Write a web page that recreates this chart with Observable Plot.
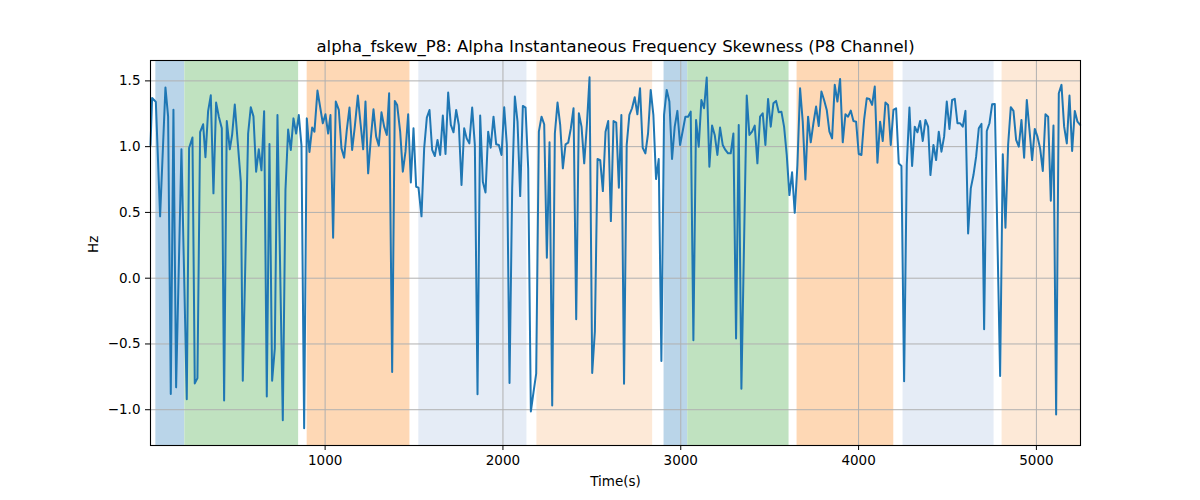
<!DOCTYPE html>
<html>
<head>
<meta charset="utf-8">
<script src="https://cdn.jsdelivr.net/npm/d3@7"></script>
<script src="https://cdn.jsdelivr.net/npm/@observablehq/plot@0.6"></script>
<style>
  html, body { margin: 0; padding: 0; background: #fff; }
  #chart svg { font-family: "DejaVu Sans", sans-serif; }
</style>
</head>
<body>
<div id="chart"></div>
<script>
const title = "alpha_fskew_P8: Alpha Instantaneous Frequency Skewness (P8 Channel)";
const xLabel = "Time(s)";
const yLabel = "Hz";
const xTicks = [1000, 2000, 3000, 4000, 5000];
const yTicks = [-1.0, -0.5, 0.0, 0.5, 1.0, 1.5];

const times = [
  18, 27, 38, 48, 72, 102, 117, 132, 147, 162, 192, 222, 235, 254, 267, 282, 297, 314, 327, 342,
  357, 372, 387, 402, 419, 432, 447, 464, 477, 492, 526, 537, 567, 582, 597, 612, 627, 642, 657, 672,
  687, 702, 717, 732, 762, 777, 792, 807, 822, 837, 852, 867, 882, 897, 912,
  927, 940, 957, 987, 1002, 1017, 1030, 1045, 1060, 1077, 1092, 1107, 1122, 1137, 1152, 1167, 1184, 1199, 1214, 1227,
  1242, 1257, 1272, 1287, 1302, 1317, 1332, 1347, 1360, 1377, 1392, 1405, 1422, 1437, 1452, 1467, 1482, 1497, 1512, 1525,
  1542, 1557, 1572, 1587, 1602, 1617, 1632, 1647, 1662, 1677, 1692, 1707, 1722, 1737, 1752, 1767, 1782,
  1796, 1811, 1827, 1842, 1857, 1872, 1887, 1902, 1917, 1931, 1947, 1962, 1977, 1992, 2007, 2022, 2037, 2052, 2067, 2082,
  2097, 2112, 2127, 2142, 2157, 2172, 2187, 2202, 2217, 2232, 2247, 2262, 2277, 2292, 2307, 2322, 2337, 2352, 2367, 2382,
  2397, 2412, 2427, 2442, 2457, 2472, 2487, 2502, 2517, 2532, 2547, 2562, 2577, 2592, 2607, 2622, 2637, 2652,
  2666, 2681, 2696, 2711, 2726, 2741, 2756, 2771, 2786, 2801, 2816, 2831, 2846, 2861, 2876, 2891, 2906, 2921, 2936, 2951,
  2966, 2981, 2996, 3011, 3026, 3041, 3056, 3071, 3086, 3101, 3116, 3131, 3146, 3161, 3176, 3191, 3206, 3221, 3236, 3251,
  3266, 3281, 3296, 3311, 3326, 3341, 3371, 3386, 3401, 3416, 3431, 3446, 3461, 3476, 3491, 3506, 3521,
  3536, 3551, 3566, 3581, 3596, 3611, 3626, 3641, 3656, 3671, 3686, 3701, 3716, 3731, 3746, 3761, 3776, 3791, 3806, 3821,
  3836, 3851, 3866, 3881, 3896, 3911, 3926, 3941, 3956, 3971, 3986, 4001, 4016, 4031, 4046, 4061, 4076, 4091, 4106, 4121,
  4136, 4151, 4166, 4181, 4196, 4211, 4226, 4241, 4256, 4271, 4286, 4301, 4316, 4331, 4346, 4361, 4376, 4391, 4404,
  4421, 4436, 4451, 4466, 4481, 4496, 4511, 4526, 4541, 4556, 4571, 4586, 4601, 4616, 4631, 4646, 4661, 4676, 4691, 4706,
  4721, 4736, 4751, 4766, 4796, 4811, 4826, 4841, 4856, 4871, 4886, 4901, 4916, 4931, 4946, 4961, 4976, 4991, 5006, 5021,
  5036, 5051, 5066, 5081, 5096, 5111, 5126, 5141, 5156, 5171, 5186, 5201, 5216, 5231, 5246
];

const values = [
  1.01, 1.37, 1.355, 1.34, 0.47, 1.45, 1.23, -0.88, 1.28, -0.83, 0.98, -0.92, 0.99, 1.07, -0.80, -0.76, 1.11, 1.17, 0.92, 1.27,
  1.39, 0.645, 1.335, 1.23, 1.14, -0.93, 1.195, 0.98, 1.09, 1.32, 0.73, -0.78, 1.10, 1.30, 1.23, 0.81, 0.98, 0.82, 1.27, -0.90,
  1.02, -0.78, -0.535, 1.24, -1.08, 0.67, 1.13, 0.975, 1.215, 1.10, 1.24, 1.01, -1.14, 1.215, 0.96,
  1.145, 1.114, 1.426, 1.178, 1.246, 1.10, 1.24, 0.307, 1.343, 1.279, 0.987, 0.916, 1.127, 1.297, 0.975, 1.152, 1.388, 1.178, 0.98, 1.343,
  0.797, 1.063, 1.284, 1.076, 1.008, 1.261, 1.152, 1.089, 1.406, -0.713, 1.348, 1.317, 1.114, 0.81, 0.962, 1.246, 0.728, 1.14, 0.695, 0.688,
  0.47, 0.987, 1.221, 1.279, 0.975, 0.929, 1.051, 0.937, 1.236, 0.944, 1.411, 1.165, 1.109, 1.279, 1.165, 0.708, 1.14,
  1.063, 1.025, 1.297, 1.013, -0.883, 1.236, 0.733, 0.652, 1.114, 0.992, 1.228, 1.018, 1.013, 0.937, 1.30, 1.013, -0.797, 0.683, 1.381, 1.19,
  0.624, 1.31, 1.297, 0.835, -1.013, -0.866, -0.726, 1.114, 1.228, 1.17, 0.155, 1.033, -0.967, 1.10, 1.335, 1.165, 0.835, 1.018, 1.03, 1.14,
  1.292, -0.312, 1.254, 1.152, 0.873, 1.165, 1.528, -0.721, -0.404, 0.906, 0.898, 0.662, 1.114, 1.195, 0.434, 1.195, 1.183, 0.688,
  1.241, -0.802, 1.013, 1.241, 1.292, 1.376, 1.246, 1.444, 0.992, 0.949, 1.10, 1.431, 1.241, 0.754, 0.906, -0.629, 1.241, 1.431, 1.343, 0.906,
  1.152, 1.272, 1.013, 1.119, 1.228, 1.228, 1.266, -0.472, 1.203, 1.00, 1.355, 1.292, 1.525, 0.848, 1.16, 1.089, 0.937, 1.145, 1.013, 0.975,
  0.949, 0.949, 1.10, -0.459, 1.165, -0.84, 1.388, 1.089, 1.114, 1.16, 0.873, 1.228, 1.254, 1.013, 1.363, 1.152, 1.33,
  1.348, 1.261, 1.266, 1.152, 0.937, 0.632, 0.805, 0.497, 0.86, 1.444, 1.19, 0.751, 1.228, 1.033, 1.178, 1.305, 1.157, 1.419, 1.355, 1.279,
  1.114, 1.063, 1.47, 1.343, 1.515, 1.033, 1.246, 1.228, 1.274, 1.195, 1.19, 0.944, 0.937, 1.203, 1.368, 1.363, 1.317, 1.457, 0.878, 1.19,
  1.043, 1.335, 1.317, 1.013, 1.279, 1.292, 0.873, 0.853, -0.784, 0.86, 1.297, 0.853, 1.152, 1.109, 1.195, 1.043, 1.203, 1.152, 0.784,
  1.013, 0.898, 1.114, 0.962, 1.076, 1.343, 1.135, 1.355, 1.363, 1.178, 1.178, 1.152, 1.272, 0.34, 0.683, 0.784, 0.924, 1.14, 1.173, -0.388,
  1.119, 1.178, 1.322, 1.325, -0.744, 0.942, 0.383, 1.013, 1.30, 1.272, 1.051, 1.00, 1.203, 0.916, 1.355, 1.127, 0.898, 1.135, 1.076, 0.987,
  0.815, 1.246, 1.228, 0.589, 1.16, -1.036, 1.406, 1.47, 1.152, 1.025, 1.388, 0.967, 1.272, 1.19, 1.165
];

// shaded segments
const bandStart = [48, 211, 899, 1527, 2191, 2906, 3039, 3654, 4250, 4807];
const bandEnd   = [211, 851, 1477, 2135, 2842, 3039, 3609, 4198, 4762, 5248];
const bandColor = ["#bad5e9", "#c0e2c0", "#fed8b5", "#e5ecf6", "#fde9d7", "#bad5e9", "#c0e2c0", "#fed8b5", "#e5ecf6", "#fde9d7"];

const series = times.map((t, i) => ({t, v: values[i]}));
const bands = bandStart.map((s, i) => ({s, e: bandEnd[i], c: bandColor[i]}));

const xDomain = [18, 5248];
const yDomain = [-1.272, 1.655];

const chart = Plot.plot({
  width: 1200,
  height: 500,
  marginLeft: 150,
  marginRight: 120,
  marginTop: 60,
  marginBottom: 55,
  style: {fontFamily: "DejaVu Sans", fontSize: "13.5px", color: "#000", background: "#fff"},
  x: {domain: xDomain, label: null},
  y: {domain: yDomain, label: null},
  marks: [
    Plot.rect(bands, {x1: "s", x2: "e", fill: "c"}),
    Plot.gridX(xTicks, {stroke: "#b0b0b0", strokeOpacity: 1, strokeWidth: 1}),
    Plot.gridY(yTicks, {stroke: "#b0b0b0", strokeOpacity: 1, strokeWidth: 1}),
    Plot.line(series, {x: "t", y: "v", stroke: "#1f77b4", strokeWidth: 2}),
    Plot.frame({stroke: "#000", strokeWidth: 1.1}),
    Plot.axisX(xTicks, {tickSize: 5, tickPadding: 5, tickFormat: d => String(d), fontSize: 13.5}),
    Plot.axisY(yTicks, {tickSize: 5, tickPadding: 5, tickFormat: d3.format(".1f"), fontSize: 13.5}),
    Plot.text([title], {frameAnchor: "top", lineAnchor: "middle", dy: -14, fontSize: 16.5, fill: "#000"}),
    Plot.text([xLabel], {frameAnchor: "bottom", lineAnchor: "middle", dy: 36, fontSize: 13.5, fill: "#000"}),
    Plot.text([yLabel], {frameAnchor: "left", lineAnchor: "middle", dx: -57, rotate: -90, fontSize: 13.5, fill: "#000"})
  ]
});
document.getElementById("chart").appendChild(chart);
</script>
</body>
</html>
